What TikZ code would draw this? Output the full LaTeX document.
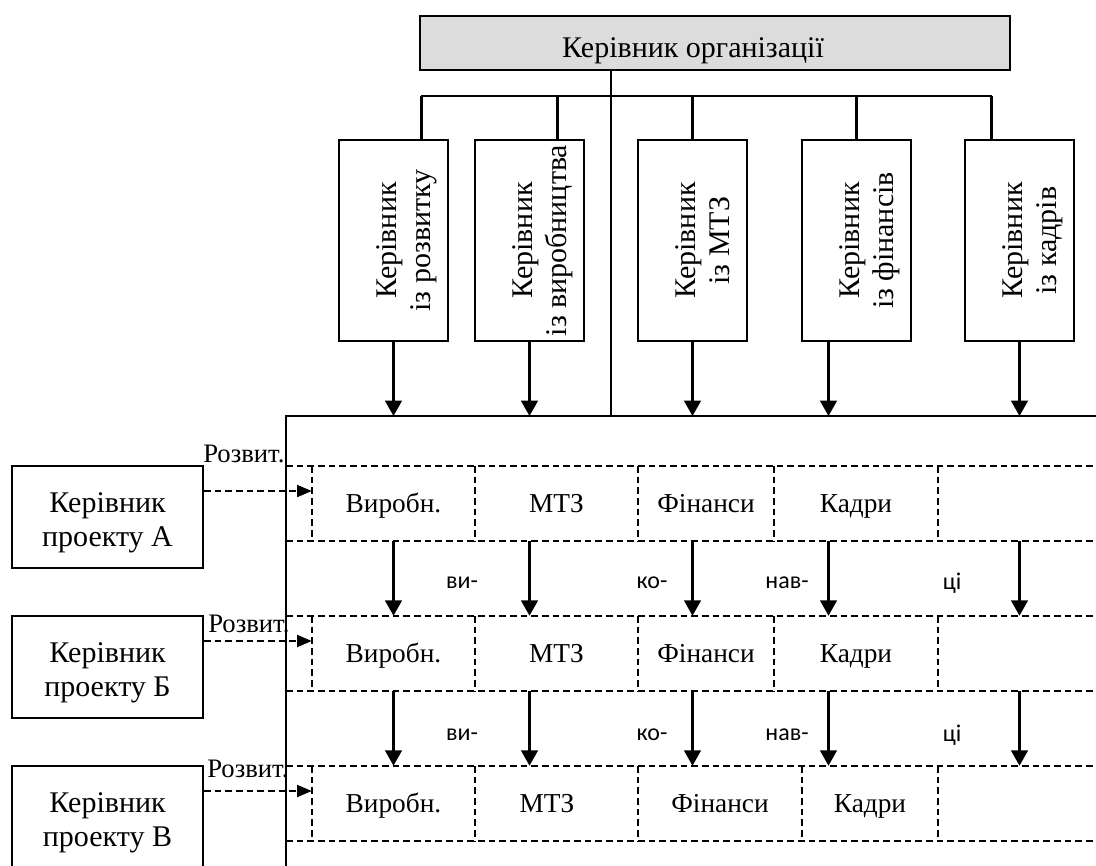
\documentclass[tikz,border=0pt]{standalone}
\usepackage{fontspec}
\setmainfont{Liberation Serif}
\newfontfamily\calibfont{Carlito}
\definecolor{bossgray}{RGB}{220, 220, 220}
\usetikzlibrary{arrows.meta, positioning}

\begin{document}
\begin{tikzpicture}[x=0.75pt, y=-0.75pt,
        every node/.style={font=\fontsize{22.5}{25.5}\selectfont},
        solidline/.style={line width=1.6pt},
        solidbox/.style={draw, line width=1.6pt, inner sep=0pt},
        headbox/.style={solidbox, rotate=90, minimum width=150.75pt, minimum height=81.75pt, align=center, text height=55pt, text depth=0pt},
        cell/.style={inner sep=0pt, font=\fontsize{20.5}{24}\selectfont, text height=16pt, text depth=3.2pt},
        dashline/.style={dashed, dash pattern=on 5pt off 3pt, line width=1.4pt},
        downarrow/.style={solidline, -{Triangle[length=11.5pt, width=12.5pt]}},
        dasharrow/.style={dashline, -{Triangle[length=11pt, width=9pt]}},
        syll/.style={font=\calibfont\fontsize{18}{21}\selectfont}]
    \useasboundingbox (0,0) rectangle (1096,865);

    % head of the organisation and the functional heads
    \node[solidbox, fill=bossgray, minimum width=442.5pt, minimum height=40.5pt, text height=21pt, text depth=0pt] (boss) at (715,43) {Керівник організації\hspace*{33pt}};
    \foreach \n/\xc/\txt in {1/393.5/{із розвитку}, 2/529.5/{із виробництва}, 3/692.5/{із МТЗ}, 4/856.5/{із фінансів}, 5/1019.5/{із кадрів}}
    {
        \node[headbox] (h\n) at (\xc,240.5) {Керівник\\ \txt};
    }

    % frame of the matrix
    \coordinate (fl) at (286,416);
    \coordinate (fr) at (1096,416);
    \coordinate (fb) at (286,870);
    \coordinate (trunk) at (611,416);
    \draw[solidline] (fb) -- (fl) -- (fr);
    \draw[solidline] (boss.south -| trunk) -- (trunk);

    % bus to the functional heads
    \coordinate (busl) at (421,96);
    \coordinate (busr) at (992,96);
    \draw[solidline] (busl) -- (busr);
    \foreach \n/\dx in {1/21pt, 2/21pt, 3/0pt, 4/0pt, 5/-21pt}
        \draw[solidline] ([xshift=\dx]h\n.east |- busl) -- ([xshift=\dx]h\n.east);
    \foreach \n/\dx in {1/0pt, 2/0pt, 3/0pt, 4/-21pt, 5/0pt}
    {
        \coordinate (a\n) at ([xshift=\dx]h\n.west |- trunk);
        \draw[downarrow] ([xshift=\dx]h\n.west) -- (a\n);
    }

    % project rows
    \foreach \r/\yt/\k/\xm/\ltr/\xd/\yd in {1/466/774/556.5/А/203/462, 2/616/774/556.5/Б/208/632, 3/766/802/547/В/207/777}
    {
        \pgfmathsetmacro\yb{\yt+75}
        \draw[dashline] (286,\yt) -- (1096,\yt) (286,\yb) -- (1096,\yb);
        \foreach \xv in {312,475,638,\k,938}
            \draw[dashline] (\xv,\yt) -- (\xv,\yb);
        \node[cell, minimum width=122.25pt, minimum height=56.25pt] (v\r) at (393.5,\yt+37.5) {Виробн.};
        \node[cell] (m\r) at (\xm,\yt+37.5) {МТЗ};
        \node[cell] (f\r) at ({(638+\k)/2},\yt+37.5) {Фінанси};
        \node[cell] (k\r) at ({(\k+938)/2},\yt+37.5) {Кадри};
        \node[solidbox, minimum width=143.25pt, minimum height=76.5pt, align=center, text height=43.5pt, text depth=0pt] (p\r) at (107.5,\yt+51) {Керівник\\проекту \ltr};
        \node[inner sep=0pt, font=\fontsize{20}{24}\selectfont, anchor=base west] (d\r) at (\xd,\yd) {Розвит.};
        \draw[dasharrow] ([yshift=19.5pt]p\r.east) -- ([yshift=19.5pt]p\r.east -| v\r.west);
    }

    % performers between the rows
    \foreach \r/\s/\ym in {1/2/583, 2/3/735}
    {
        \foreach \n in {1,...,5}
            \draw[downarrow] (a\n |- v\r.south) -- (a\n |- v\s.north);
        \foreach \xs/\txt [count=\i] in {462/ви-, 652/ко-, 787/нав-, 952/ці}
            \node[syll] (s\r\i) at (\xs,\ym) {\txt};
    }
\end{tikzpicture}
\end{document}
